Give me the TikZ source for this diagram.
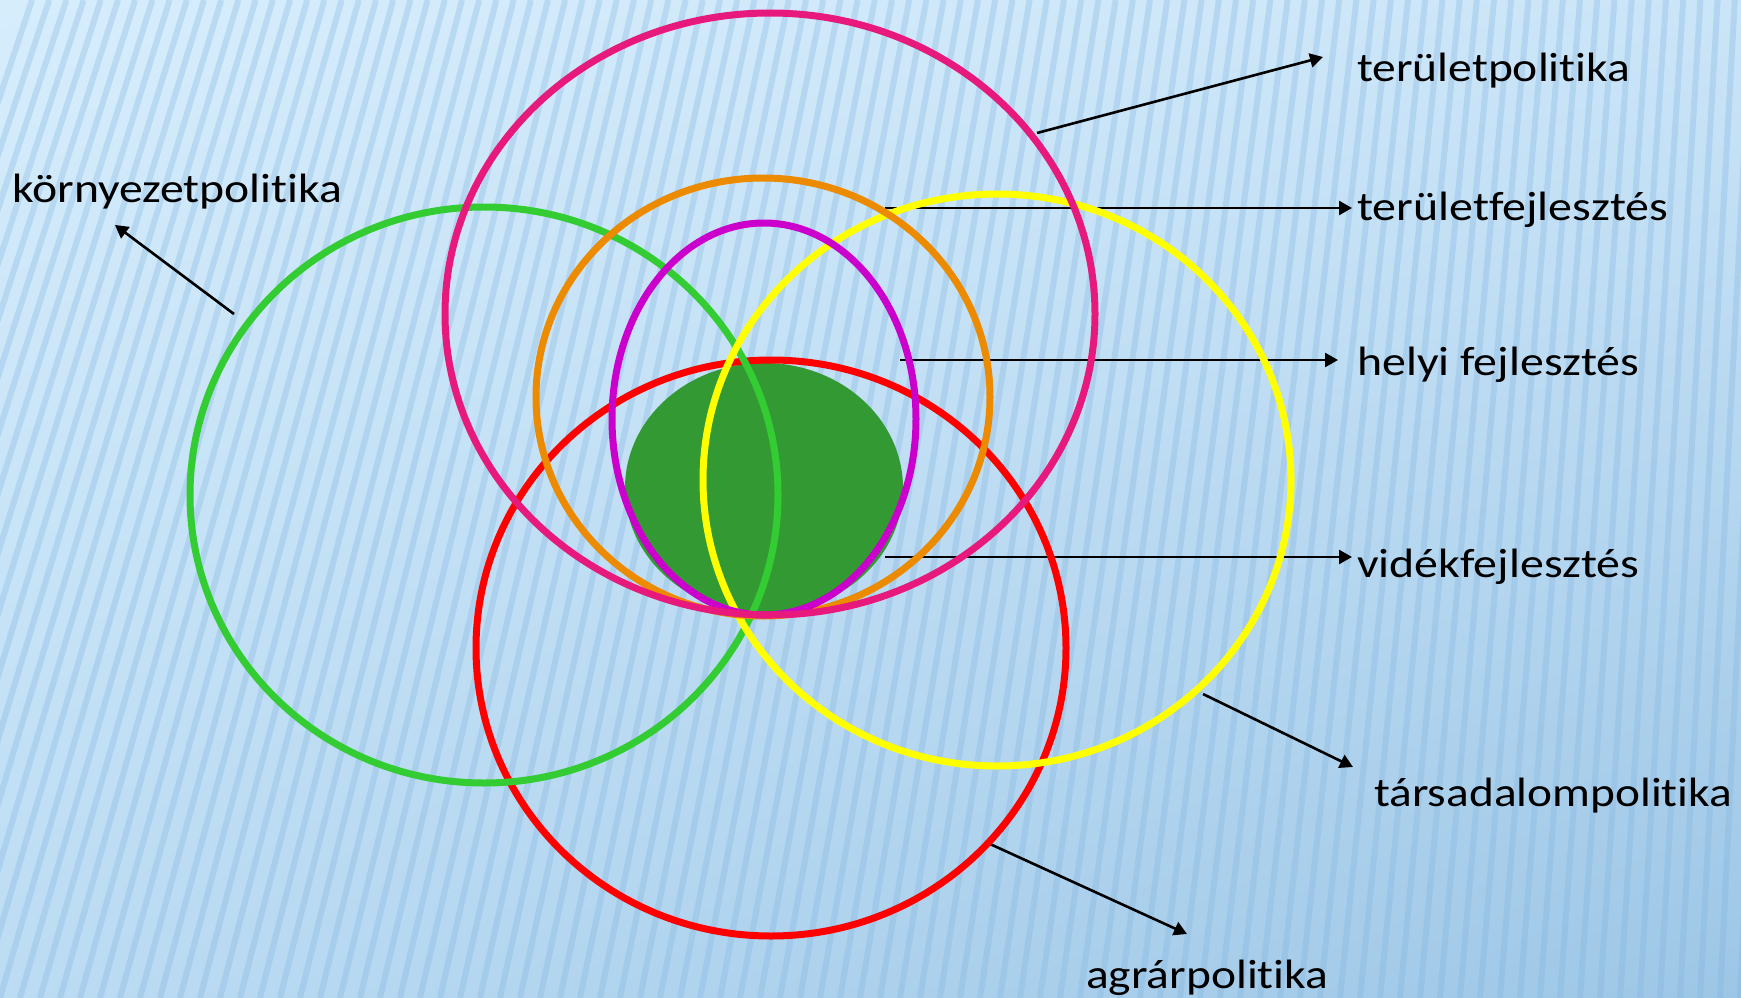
\documentclass[tikz,border=0pt]{standalone}
\usepackage{fontspec}
\setmainfont{Carlito}[Ligatures=NoCommon]
\usetikzlibrary{arrows.meta,shadings}
\definecolor{bgTL}{HTML}{D6EDFC}
\definecolor{bgTR}{HTML}{CBE5F8}
\definecolor{bgBL}{HTML}{BCDCF3}
\definecolor{bgBR}{HTML}{9DC6E6}
\definecolor{stripeC}{HTML}{7FB2DE}
\definecolor{cPink}{HTML}{E8197D}
\definecolor{cGreen}{HTML}{33CC33}
\definecolor{cOrange}{HTML}{EC8A00}
\definecolor{cMagenta}{HTML}{CC00CC}
\definecolor{cYellow}{HTML}{FFFF00}
\definecolor{cRed}{HTML}{FF0000}
\definecolor{cFill}{HTML}{339933}
\begin{document}
\begin{tikzpicture}[x=1pt,y=-1pt,
  ring/.style={line width=7pt},
  lbl/.style={anchor=base west, inner sep=0pt, text=black, font=\fontsize{41}{41}\selectfont},
  pointer/.style={line width=2.6pt, -{Triangle[length=13pt,width=14pt]}},
  stripe/.style={line width=6pt, stripeC, opacity=0.3}]
\useasboundingbox (0,0) rectangle (1741,998);
\shade[upper left=bgTL, upper right=bgTR, lower left=bgBL, lower right=bgBR] (0,0) rectangle (1741,998);
\begin{scope}
\clip (0,0) rectangle (1741,998);
\foreach \b in {-300,-280,...,1800} {
  \draw[stripe] (\b,998) -- ({290+0.86*\b},0);
}
\end{scope}
% filled core
\fill[cFill] (764,488) ellipse [x radius=139, y radius=125];
% labels
\node[lbl] (kp) at (12,202) {\resizebox{330pt}{\height}{környezetpolitika}};
\node[lbl] (tp) at (1357,82) {\resizebox{273pt}{\height}{területpolitika}};
\node[lbl] (tf) at (1357,220) {\resizebox{311pt}{\height}{területfejlesztés}};
\node[lbl] (hf) at (1357,375) {\resizebox{282pt}{\height}{helyi fejlesztés}};
\node[lbl] (vf) at (1357,577) {\resizebox{282pt}{\height}{vidékfejlesztés}};
\node[lbl] (sp) at (1374,806) {\resizebox{358pt}{\height}{társadalompolitika}};
\node[lbl] (ap) at (1086,988) {\resizebox{242pt}{\height}{agrárpolitika}};
% arrow endpoints
\coordinate (kp-s) at (234,314); \coordinate (kp-e) at (115,225);
\coordinate (tp-s) at (1037,133); \coordinate (tp-e) at (1323,57);
\coordinate (tf-s) at (885,208); \coordinate (tf-e) at (1352,208);
\coordinate (hf-s) at (900,360); \coordinate (hf-e) at (1338,360);
\coordinate (vf-s) at (885,557); \coordinate (vf-e) at (1352,557);
\coordinate (sp-s) at (1203,694); \coordinate (sp-e) at (1353,767);
\coordinate (ap-s) at (990,844); \coordinate (ap-e) at (1187,934);
\foreach \n in {kp,tp,tf,hf,vf,sp,ap} {
  \draw[pointer] (\n-s) -- (\n-e);
}
% rings
\draw[ring, cRed] (771,648) ellipse [x radius=295, y radius=288];
\draw[ring, cGreen] (484,495) ellipse [x radius=294, y radius=288];
\draw[ring, cYellow] (997,480) ellipse [x radius=294, y radius=286];
\draw[ring, cOrange] (763,397) ellipse [x radius=227, y radius=219];
\draw[ring, cMagenta] (764,419) ellipse [x radius=152, y radius=196];
\draw[ring, cPink] (770,314) ellipse [x radius=325, y radius=301];
\end{tikzpicture}
\end{document}
